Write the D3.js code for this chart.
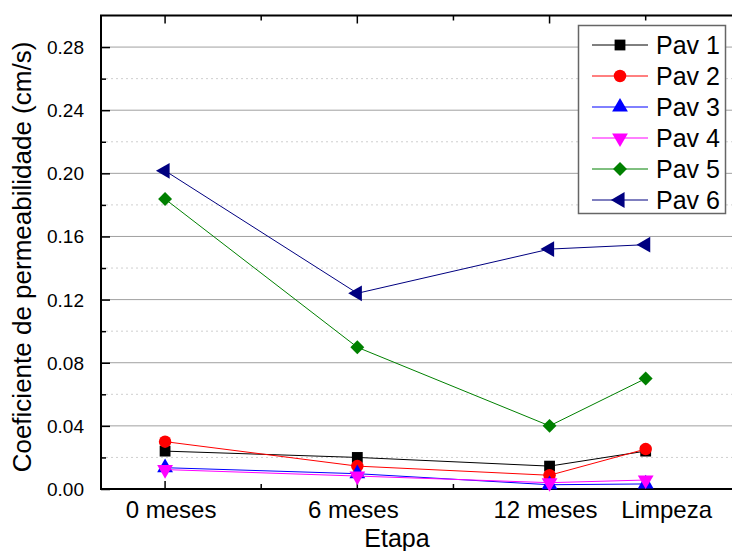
<!DOCTYPE html>
<html>
<head>
<meta charset="utf-8">
<script src="https://cdn.jsdelivr.net/npm/d3@7"></script>
<style>
  body { margin: 0; background: #fff; }
  svg { display: block; font-family: Arial, "Liberation Sans", sans-serif; }
</style>
</head>
<body>
<svg id="chart" width="732" height="551"></svg>
<script>
// stage positions on the x axis (months) and their labels
const stages = [0, 6, 12, 15];
const stageLabels = ['0 meses', '6 meses', '12 meses', 'Limpeza'];
const seriesNames = ['Pav 1', 'Pav 2', 'Pav 3', 'Pav 4', 'Pav 5', 'Pav 6'];

const pav1 = [0.024, 0.020, 0.0145, 0.024];
const pav2 = [0.030, 0.0145, 0.0087, 0.0253];
const pav3 = [0.0135, 0.0097, 0.0027, 0.0032];
const pav4 = [0.0123, 0.0082, 0.0040, 0.0057];
const pav5 = [0.1837, 0.0898, 0.0400, 0.0700];
const pav6 = [0.2016, 0.1240, 0.1520, 0.1548];

const yTicks = [0, 0.04, 0.08, 0.12, 0.16, 0.20, 0.24, 0.28];

const colors = ['#000000', '#ff0000', '#0000ff', '#ff00ff', '#008000', '#000080'];
const shapes = ['square', 'circle', 'up', 'down', 'diamond', 'left'];
const allSeries = [pav1, pav2, pav3, pav4, pav5, pav6];

const svg = d3.select('#chart');
const margin = { left: 101, top: 15.5, bottom: 489 };

const x = d3.scaleLinear().domain([-2, 18]).range([margin.left, margin.left + 20 * 32.04]);
const y = d3.scaleLinear().domain([0, 0.30]).range([margin.bottom, margin.top]);

const plotRight = x(18);

// grid lines
const minorY = d3.range(0.02, 0.30, 0.04);
svg.append('g').selectAll('line')
  .data(minorY)
  .enter().append('line')
  .attr('x1', x(-2)).attr('x2', plotRight)
  .attr('y1', d => y(d)).attr('y2', d => y(d))
  .attr('stroke', '#cfcfcf')
  .attr('stroke-dasharray', '2,3');

svg.append('g').selectAll('line')
  .data(yTicks.slice(1))
  .enter().append('line')
  .attr('x1', x(-2)).attr('x2', plotRight)
  .attr('y1', d => y(d)).attr('y2', d => y(d))
  .attr('stroke', '#a0a0a0');

// axes (ticks point inward)
const yAxis = svg.append('g')
  .attr('transform', 'translate(' + margin.left + ',0)')
  .call(d3.axisRight(y).tickValues(yTicks).tickSize(9).tickFormat(''));
yAxis.select('.domain').remove();
yAxis.selectAll('line').attr('stroke', '#000').attr('stroke-width', 1.5);

svg.append('g')
  .attr('transform', 'translate(' + margin.left + ',0)')
  .call(d3.axisRight(y).tickValues(minorY).tickSize(5).tickFormat(''))
  .call(g => g.select('.domain').remove())
  .selectAll('line').attr('stroke', '#000').attr('stroke-width', 1.5);

svg.append('g').selectAll('text')
  .data(yTicks)
  .enter().append('text')
  .attr('x', 84)
  .attr('y', d => y(d) + 7)
  .attr('text-anchor', 'end')
  .style('font-size', '19px')
  .text(d => d3.format('.2f')(d));

const majorX = [0, 6, 12];
const minorX = [3, 9, 15];

[margin.bottom, margin.top].forEach((pos, i) => {
  const dir = i === 0 ? -1 : 1;
  svg.append('g').selectAll('line')
    .data(majorX)
    .enter().append('line')
    .attr('x1', d => x(d)).attr('x2', d => x(d))
    .attr('y1', pos).attr('y2', pos + dir * 8)
    .attr('stroke', '#000').attr('stroke-width', 1.5);
  svg.append('g').selectAll('line')
    .data(minorX)
    .enter().append('line')
    .attr('x1', d => x(d)).attr('x2', d => x(d))
    .attr('y1', pos).attr('y2', pos + dir * 5)
    .attr('stroke', '#000').attr('stroke-width', 1.5);
});

// frame
svg.append('path')
  .attr('d', 'M' + plotRight + ',' + margin.top + 'H' + margin.left + 'V' + margin.bottom + 'H' + plotRight)
  .attr('fill', 'none')
  .attr('stroke', '#000')
  .attr('stroke-width', 2);

// x tick labels
svg.append('g').selectAll('text')
  .data(stages)
  .enter().append('text')
  .attr('x', (d, i) => x(d) + (i === 3 ? 21 : i === 0 ? 6 : -4))
  .attr('y', 518)
  .attr('text-anchor', 'middle')
  .style('font-size', '24px')
  .text((d, i) => stageLabels[i]);

// axis titles
svg.append('text')
  .attr('x', 397)
  .attr('y', 547)
  .attr('text-anchor', 'middle')
  .style('font-size', '25px')
  .text('Etapa');

svg.append('text')
  .attr('transform', 'translate(31,257) rotate(-90)')
  .attr('text-anchor', 'middle')
  .style('font-size', '26px')
  .text('Coeficiente de permeabilidade (cm/s)');

// markers
function marker(sel, shape, color, s) {
  if (shape === 'circle') {
    sel.append('circle').attr('r', s * 0.52).attr('fill', color);
  } else if (shape === 'square' || shape === 'diamond') {
    const side = shape === 'square' ? s * 0.9 : s * 0.82;
    sel.append('path')
      .attr('d', d3.symbol().type(d3.symbolSquare).size(side * side)())
      .attr('transform', shape === 'diamond' ? 'rotate(45)' : null)
      .attr('fill', color);
  } else {
    const rot = { down: 180, left: -90 }[shape] || 0;
    sel.append('path')
      .attr('d', d3.symbol().type(d3.symbolTriangle).size(s * s * 0.75)())
      .attr('transform', 'rotate(' + rot + ')')
      .attr('fill', color);
  }
}

const line = d3.line().x((d, i) => x(stages[i])).y(d => y(d));

allSeries.forEach((vals, k) => {
  const g = svg.append('g');
  g.append('path')
    .datum(vals)
    .attr('d', line)
    .attr('fill', 'none')
    .attr('stroke', colors[k])
    .attr('stroke-width', 1);
  vals.forEach((v, i) => {
    const m = g.append('g').attr('transform', 'translate(' + x(stages[i]) + ',' + y(v) + ')');
    marker(m, shapes[k], colors[k], 12);
  });
});

// legend
const legend = svg.append('g');
legend.append('rect')
  .attr('x', 578.5).attr('y', 25.5)
  .attr('width', 147).attr('height', 188)
  .attr('fill', '#fff')
  .attr('stroke', '#666')
  .attr('stroke-width', 1.5);

seriesNames.forEach((name, k) => {
  const ly = 45 + k * 31;
  const item = legend.append('g').attr('transform', 'translate(0,' + ly + ')');
  item.append('line')
    .attr('x1', 592).attr('x2', 648)
    .attr('stroke', colors[k]).attr('stroke-width', 1);
  const m = item.append('g').attr('transform', 'translate(620,0)');
  marker(m, shapes[k], colors[k], 12);
  item.append('text')
    .attr('x', 656).attr('y', 9)
    .style('font-size', '25px')
    .text(name);
});
</script>
</body>
</html>
